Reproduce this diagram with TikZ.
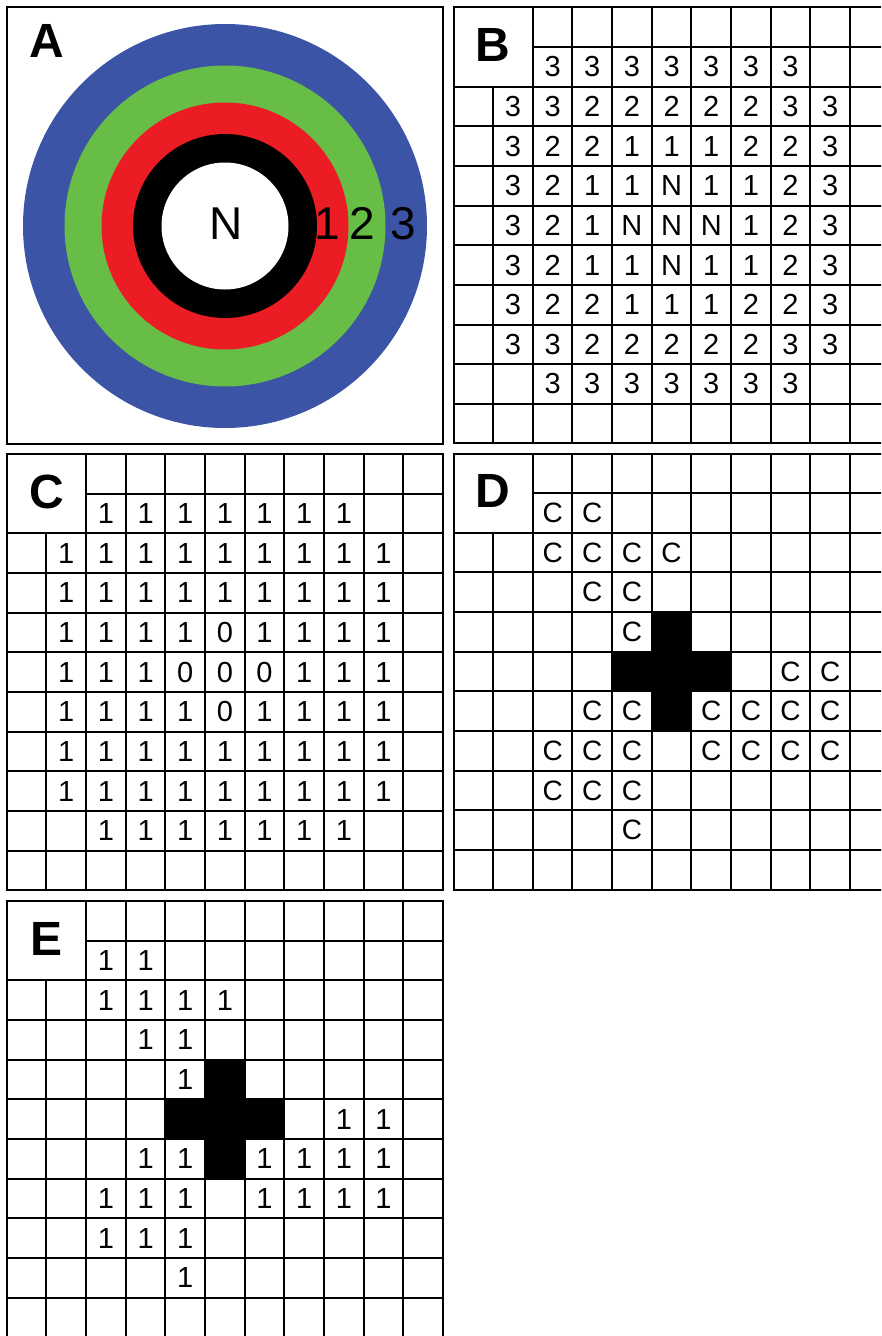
\documentclass[tikz,border=0pt]{standalone}
\usepackage{fontspec}
\setmainfont{Liberation Sans}
\definecolor{ringblue}{HTML}{3B54A5}
\definecolor{ringgreen}{HTML}{67BD45}
\definecolor{ringred}{HTML}{EC1C24}
\tikzset{
  gridline/.style={line width=2pt, draw=black, line cap=rect},
  cellnum/.style={inner sep=0pt, font=\fontsize{29}{30}\selectfont},
  cellC/.style={inner sep=0pt, font=\fontsize{28}{30}\selectfont},
  panellabel/.style={inner sep=0pt, font=\fontsize{48}{50}\selectfont\bfseries},
  ringlabel/.style={inner sep=0pt, font=\fontsize{46}{48}\selectfont},
  blockcell/.style={fill=black, draw=none},
}
\def\s{39.65}
\newcommand\panelgrid[1]{%
  \foreach \i in {0,2,3,...,11} \draw[gridline] (0,{\i*\s}) -- ({11*\s},{\i*\s});
  \draw[gridline] ({2*\s},\s) -- ({11*\s},\s);
  \foreach \j in {0,2,3,...,11} \draw[gridline] ({\j*\s},0) -- ({\j*\s},{11*\s});
  \draw[gridline] (\s,{2*\s}) -- (\s,{11*\s});
  \node[panellabel] (lab#1) at (\s,{\s-2}) {#1};
}
\newcommand\crossblock{%
  \foreach \c/\r in {5/4,4/5,5/5,6/5,5/6}
    \fill[blockcell] ({\c*\s},{\r*\s}) rectangle ({(\c+1)*\s},{(\r+1)*\s});
}
% #1 panel, #2 row, #3 first column, #4 values, #5 style
\newcommand\cellrow[5]{%
  \foreach \v [count=\k from #3] in {#4}
    \node[#5] (#1-#2-\k) at ({(\k+0.5)*\s},{(#2+0.5)*\s}) {\v};
}
\begin{document}
\begin{tikzpicture}[x=1pt,y=-1pt]
\useasboundingbox (0,0) rectangle (881,1336);
\clip (0,0) rectangle (881,1336);
\fill[white] (0,0) rectangle (881,1336);

% ---------- Panel A ----------
\begin{scope}
  \fill[ringblue] (225,226) circle (202);
  \fill[ringgreen] (225,226) circle (160.5);
  \fill[ringred] (225,226) circle (123.5);
  \fill[black] (225,226) circle (92);
  \fill[white] (225,226) circle (63.5);
  \draw[gridline] (7,7) rectangle (443,443.5);
  \node[panellabel] (labA) at (47,41) {A};
  \node[ringlabel] (ringN) at (226,223.5) {N};
  \node[ringlabel] (ring1) at (327.5,223.5) {1};
  \node[ringlabel] (ring2) at (362.5,223.5) {2};
  \node[ringlabel] (ring3) at (403.5,223.5) {3};
\end{scope}

% ---------- Panel B ----------
\begin{scope}[shift={(453.5,7.3)}]
  \panelgrid{B}
  \cellrow{B}{1}{2}{3,3,3,3,3,3,3}{cellnum}
  \cellrow{B}{2}{1}{3,3,2,2,2,2,2,3,3}{cellnum}
  \cellrow{B}{3}{1}{3,2,2,1,1,1,2,2,3}{cellnum}
  \cellrow{B}{4}{1}{3,2,1,1,N,1,1,2,3}{cellnum}
  \cellrow{B}{5}{1}{3,2,1,N,N,N,1,2,3}{cellnum}
  \cellrow{B}{6}{1}{3,2,1,1,N,1,1,2,3}{cellnum}
  \cellrow{B}{7}{1}{3,2,2,1,1,1,2,2,3}{cellnum}
  \cellrow{B}{8}{1}{3,3,2,2,2,2,2,3,3}{cellnum}
  \cellrow{B}{9}{2}{3,3,3,3,3,3,3}{cellnum}
\end{scope}

% ---------- Panel C ----------
\begin{scope}[shift={(6.8,454)}]
  \panelgrid{C}
  \cellrow{C}{1}{2}{1,1,1,1,1,1,1}{cellnum}
  \cellrow{C}{2}{1}{1,1,1,1,1,1,1,1,1}{cellnum}
  \cellrow{C}{3}{1}{1,1,1,1,1,1,1,1,1}{cellnum}
  \cellrow{C}{4}{1}{1,1,1,1,0,1,1,1,1}{cellnum}
  \cellrow{C}{5}{1}{1,1,1,0,0,0,1,1,1}{cellnum}
  \cellrow{C}{6}{1}{1,1,1,1,0,1,1,1,1}{cellnum}
  \cellrow{C}{7}{1}{1,1,1,1,1,1,1,1,1}{cellnum}
  \cellrow{C}{8}{1}{1,1,1,1,1,1,1,1,1}{cellnum}
  \cellrow{C}{9}{2}{1,1,1,1,1,1,1}{cellnum}
\end{scope}

% ---------- Panel D ----------
\begin{scope}[shift={(453.5,453.5)}]
  \crossblock
  \panelgrid{D}
  \cellrow{D}{1}{2}{C,C}{cellC}
  \cellrow{D}{2}{2}{C,C,C,C}{cellC}
  \cellrow{D}{3}{3}{C,C}{cellC}
  \cellrow{D}{4}{4}{C}{cellC}
  \cellrow{D}{5}{8}{C,C}{cellC}
  \cellrow{D}{6}{3}{C,C,{},C,C,C,C}{cellC}
  \cellrow{D}{7}{2}{C,C,C,{},C,C,C,C}{cellC}
  \cellrow{D}{8}{2}{C,C,C}{cellC}
  \cellrow{D}{9}{4}{C}{cellC}
\end{scope}

% ---------- Panel E ----------
\begin{scope}[shift={(6.8,901)}]
  \crossblock
  \panelgrid{E}
  \cellrow{E}{1}{2}{1,1}{cellnum}
  \cellrow{E}{2}{2}{1,1,1,1}{cellnum}
  \cellrow{E}{3}{3}{1,1}{cellnum}
  \cellrow{E}{4}{4}{1}{cellnum}
  \cellrow{E}{5}{8}{1,1}{cellnum}
  \cellrow{E}{6}{3}{1,1,{},1,1,1,1}{cellnum}
  \cellrow{E}{7}{2}{1,1,1,{},1,1,1,1}{cellnum}
  \cellrow{E}{8}{2}{1,1,1}{cellnum}
  \cellrow{E}{9}{4}{1}{cellnum}
\end{scope}
\end{tikzpicture}
\end{document}
